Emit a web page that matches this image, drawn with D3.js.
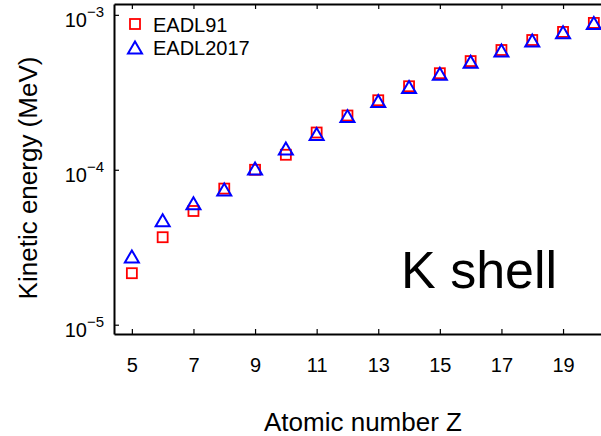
<!DOCTYPE html>
<html>
<head>
<meta charset="utf-8">
<script src="https://cdn.jsdelivr.net/npm/d3@7"></script>
<style>
  body { margin: 0; background: #fff; }
  svg { display: block; font-family: "Liberation Sans", Arial, Helvetica, sans-serif; }
</style>
</head>
<body>
<svg id="chart" width="601" height="436"></svg>
<script>
const Z = [5, 6, 7, 8, 9, 10, 11, 12, 13, 14, 15, 16, 17, 18, 19, 20];
const EADL91 = [2.15e-5, 3.67e-5, 5.42e-5, 7.56e-5, 1.00e-4, 1.25e-4, 1.74e-4, 2.24e-4,
                2.81e-4, 3.46e-4, 4.20e-4, 5.03e-4, 5.93e-4, 6.88e-4, 7.76e-4, 8.87e-4];
const EADL2017 = [2.76e-5, 4.73e-5, 6.09e-5, 7.45e-5, 1.02e-4, 1.37e-4, 1.70e-4, 2.22e-4,
                  2.78e-4, 3.42e-4, 4.17e-4, 4.98e-4, 5.88e-4, 6.84e-4, 7.72e-4, 8.85e-4];
const xTicks = [5, 7, 9, 11, 13, 15, 17, 19];
const yTicks = [1e-5, 1e-4, 1e-3];
const yTickExp = ["\u22125", "\u22124", "\u22123"];
const seriesNames = ["EADL91", "EADL2017"];
const xLabel = "Atomic number Z";
const yLabel = "Kinetic energy (MeV)";
const annotation = "K shell";

(function () {
const svg = d3.select("#chart");
const pL = 114, pR = 615.4, pT = 4, pB = 334;

const x = d3.scaleLinear().domain([4.42, 20.7]).range([pL, pR]);
const y = d3.scaleLog().domain([Math.pow(10, -5.06), Math.pow(10, -2.93)]).range([pB, pT]);

const axStyle = g => {
  g.selectAll("path.domain").attr("stroke", "#000").attr("stroke-width", 2);
  g.selectAll(".tick line").attr("stroke", "#000").attr("stroke-width", 1.2);
};
svg.append("g").attr("transform", `translate(0,${pB})`)
  .call(d3.axisBottom(x).tickValues(xTicks).tickSize(-5).tickSizeOuter(0).tickPadding(24)
    .tickFormat(d3.format("d")))
  .call(axStyle)
  .call(g => g.selectAll("text").attr("font-size", 20).attr("fill", "#000")
    .attr("font-family", "Liberation Sans, Arial, sans-serif"));
svg.append("g").attr("transform", `translate(0,${pT})`)
  .call(d3.axisTop(x).tickValues(xTicks).tickSize(-5).tickSizeOuter(0).tickFormat(""))
  .call(axStyle);
svg.append("g").attr("transform", `translate(${pL},0)`)
  .call(d3.axisLeft(y).tickValues(yTicks).tickSize(-5).tickSizeOuter(0).tickFormat(""))
  .call(axStyle);

const yl = svg.append("g").selectAll("text").data(yTicks).join("text")
  .attr("x", 104).attr("y", d => y(d) + 12)
  .attr("text-anchor", "end").attr("font-size", 20).attr("fill", "#000");
yl.append("tspan").text("10");
yl.append("tspan").attr("dy", -10).attr("font-size", 15).text((d, i) => yTickExp[i]);

const sq = 10, triW = 14, triH = 12;
const triPath = (cx, cy) => `M${cx},${cy - triH / 2}L${cx + triW / 2},${cy + triH / 2}L${cx - triW / 2},${cy + triH / 2}Z`;

svg.append("g").selectAll("rect").data(Z).join("rect")
  .attr("x", (d) => x(d) - sq / 2)
  .attr("y", (d, i) => y(EADL91[i]) - sq / 2)
  .attr("width", sq).attr("height", sq)
  .attr("fill", "none").attr("stroke", "#ff0000").attr("stroke-width", 1.8);

svg.append("g").selectAll("path").data(Z).join("path")
  .attr("d", (d, i) => triPath(x(d), y(EADL2017[i])))
  .attr("fill", "none").attr("stroke", "#0000ff").attr("stroke-width", 2);

svg.append("rect").attr("x", 135 - sq / 2).attr("y", 24 - sq / 2).attr("width", sq).attr("height", sq)
  .attr("fill", "none").attr("stroke", "#ff0000").attr("stroke-width", 1.8);
svg.append("path").attr("d", triPath(135, 47.5))
  .attr("fill", "none").attr("stroke", "#0000ff").attr("stroke-width", 2);
svg.append("text").attr("x", 153).attr("y", 31.5).attr("font-size", 20).text(seriesNames[0]);
svg.append("text").attr("x", 153).attr("y", 55).attr("font-size", 20).text(seriesNames[1]);

svg.append("text").attr("x", 363).attr("y", 431).attr("text-anchor", "middle")
  .attr("font-size", 26).text(xLabel);
svg.append("text").attr("transform", "translate(37,178) rotate(-90)").attr("text-anchor", "middle")
  .attr("font-size", 26).text(yLabel);

svg.append("text").attr("x", 401).attr("y", 288).attr("font-size", 52).text(annotation);
})();
</script>
</body>
</html>
